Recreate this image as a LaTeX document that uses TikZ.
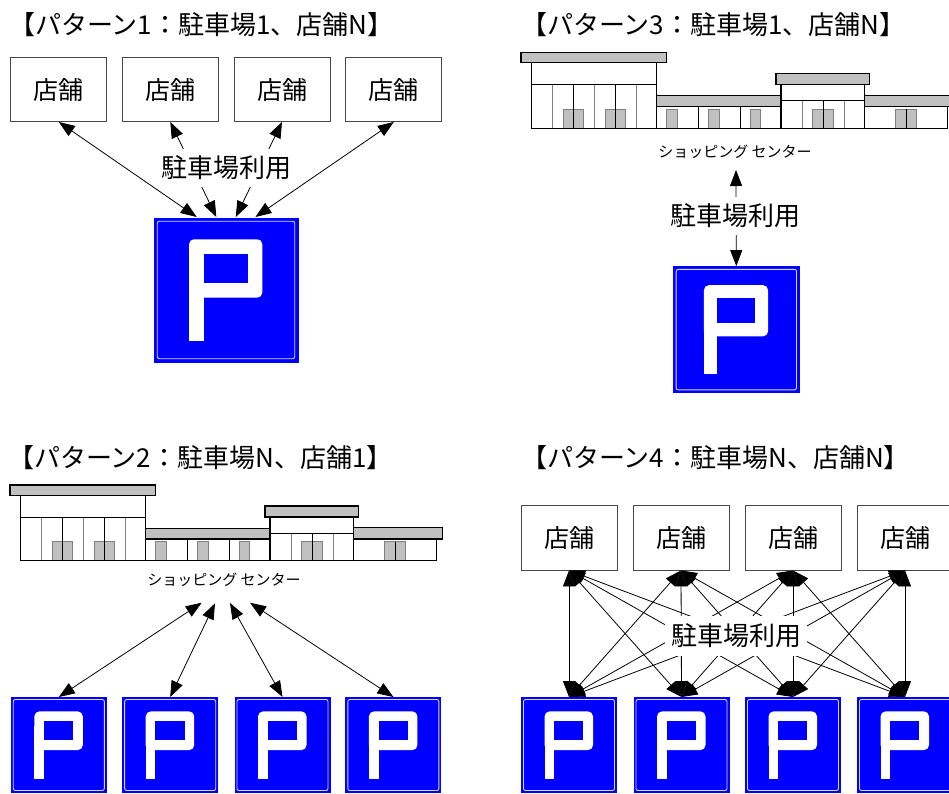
\documentclass[tikz,border=0pt]{standalone}
\usepackage{fontspec}
\newfontfamily\jp{Noto Sans CJK JP}
\usetikzlibrary{arrows.meta}
\definecolor{signblue}{RGB}{0,0,255}
\definecolor{roofgray}{RGB}{192,192,192}
\definecolor{framegray}{RGB}{70,70,70}

\tikzset{
  store/.style={draw=framegray, line width=0.9pt, fill=white, minimum width=96pt,
    minimum height=#1, inner sep=0pt, font=\jp\fontsize{25}{25}\selectfont},
  store/.default=64pt,
  usage/.style={fill=white, inner xsep=6pt, inner ysep=7pt, font=\jp\fontsize{26}{26}\selectfont},
  heading/.style={anchor=west, inner sep=0pt, font=\jp\fontsize{26}{26}\selectfont},
  malllabel/.style={inner sep=0pt, font=\jp\fontsize{15}{15}\selectfont},
  link/.style={draw=black, line width=0.8pt,
    {Triangle[length=16pt,width=12pt]}-{Triangle[length=16pt,width=12pt]}},
  % square blue parking sign with a white "P" (drawn about the node centre)
  psign/.style={rectangle, fill=signblue, minimum width=#1pt, minimum height=#1pt,
    inner sep=0pt, outer sep=0pt,
    path picture={
      \begin{scope}[x=#1pt, y=-#1pt]
        \draw[white!85!signblue, line width=0.9pt, rounded corners=2pt]
          (-0.474,-0.474) rectangle (0.474,0.474);
        \fill[white] (-0.255,-0.2) rectangle (-0.155,0.35);
        \fill[white, rounded corners=5pt] (-0.255,-0.35) rectangle (0.25,0.053);
        \fill[signblue] (-0.155,-0.25) rectangle (0.15,-0.05);
      \end{scope}
    }},
  wall/.style={draw=black, line width=1.1pt},
  roof/.style={draw=black, line width=1.1pt, fill=roofgray},
  door/.style={draw=gray, line width=0.6pt, fill=roofgray},
  mullion/.style={draw=gray, line width=0.8pt},
  doorline/.style={draw=black, line width=1pt},
  % shopping centre front, origin at the bottom-left corner of the facade
  mall/.pic={
    % buildings
    \fill[white] (0,-65.4) rectangle (125,0);
    \fill[white] (125,-21.7) rectangle (249.3,0);
    \fill[white] (249.3,-43.7) rectangle (332.6,0);
    \fill[white] (332.6,-21.7) rectangle (416,0);
    % window mullions
    \draw[mullion] (21,-43.4) -- (21,0) (62.6,-43.4) -- (62.6,0) (104.3,-43.4) -- (104.3,0);
    \draw[mullion] (271,-27.4) -- (271,0) (312.6,-27.4) -- (312.6,0);
    % doors
    \draw[door] (31.6,-19) rectangle (52,0);
    \draw[door] (73.3,-19) rectangle (93.6,0);
    \draw[door] (135,-19) rectangle (146,0);
    \draw[door] (176.6,-19) rectangle (187.6,0);
    \draw[door] (218.3,-19) rectangle (228.6,0);
    \draw[door] (281,-19) rectangle (301.6,0);
    \draw[door] (363.6,-19) rectangle (384.3,0);
    \draw[doorline] (42,-43.4) -- (42,0) (83.3,-43.4) -- (83.3,0)
      (166.6,-21.7) -- (166.6,0) (208.3,-21.7) -- (208.3,0)
      (291.6,-27.4) -- (291.6,0) (374.3,-19) -- (374.3,0);
    % outlines
    \draw[wall] (0,-65.4) rectangle (125,0);
    \draw[wall] (0,-43.4) -- (125,-43.4);
    \draw[wall] (125,-21.7) rectangle (249.3,0);
    \draw[wall] (249.3,-43.7) rectangle (332.6,0);
    \draw[wall] (249.3,-27.4) -- (332.6,-27.4);
    \draw[wall] (332.6,-21.7) -- (416,-21.7) -- (416,0);
    \draw[wall] (0,0) -- (416,0);
    % roofs
    \draw[roof] (-10.7,-75.7) rectangle (135,-65.4);
    \draw[roof] (125,-32.4) rectangle (249.3,-21.7);
    \draw[roof] (244.3,-54.7) rectangle (337.6,-43.7);
    \draw[roof] (332.6,-33) rectangle (421.6,-21.7);
  }
}

\begin{document}
\begin{tikzpicture}[x=1pt, y=-1pt]
  \useasboundingbox (0,0) rectangle (949,793);
  \clip (0,0) rectangle (949,793);
  \fill[white] (0,0) rectangle (949,793);

  % ---------- pattern 1: one car park, N shops ----------
  \node[heading] (h1) at (9,25) {【パターン1：駐車場1、店舗N】};
  \node[store] (s11) at (58.8,89.5) {店舗};
  \node[store] (s12) at (170.3,89.5) {店舗};
  \node[store] (s13) at (282,89.5) {店舗};
  \node[store] (s14) at (393.8,89.5) {店舗};
  \node[psign=145] (p1) at (226,290) {};
  \coordinate (e11) at (196.7,217);
  \coordinate (e12) at (216.3,217);
  \coordinate (e13) at (235.8,217);
  \coordinate (e14) at (255.4,217);
  \draw[link] (s11.south) -- (e11);
  \draw[link] (s12.south) -- (e12);
  \draw[link] (s13.south) -- (e13);
  \draw[link] (s14.south) -- (e14);
  \node[usage] (u1) at (226,168) {駐車場利用};

  % ---------- pattern 3: one car park, one shopping centre ----------
  \node[heading] (h3) at (521,25) {【パターン3：駐車場1、店舗N】};
  \pic at (531.7,128.3) {mall};
  \node[malllabel] (m3) at (735,151.7) {ショッピング センター};
  \coordinate (c3) at (736,170);
  \node[psign=127] (p3) at (736.3,329.6) {};
  \draw[link] (c3) -- (p3.north);
  \node[usage] (u3) at (735,216) {駐車場利用};

  % ---------- pattern 2: N car parks, one shopping centre ----------
  \node[heading] (h2) at (8,458) {【パターン2：駐車場N、店舗1】};
  \pic at (20.7,560.7) {mall};
  \node[malllabel] (m2) at (224,580) {ショッピング センター};
  \node[psign=96] (p21) at (58.8,745) {};
  \node[psign=96] (p22) at (170.2,745) {};
  \node[psign=96] (p23) at (282.5,745) {};
  \node[psign=96] (p24) at (393.4,745) {};
  \coordinate (c21) at (201.7,602.7);
  \coordinate (c22) at (215,603.3);
  \coordinate (c23) at (230,603);
  \coordinate (c24) at (250,602.7);
  \draw[link] (c21) -- (p21.north);
  \draw[link] (c22) -- (p22.north);
  \draw[link] (c23) -- (p23.north);
  \draw[link] (c24) -- (p24.north);

  % ---------- pattern 4: N car parks, N shops ----------
  \node[heading] (h4) at (521,458) {【パターン4：駐車場N、店舗N】};
  \node[store=65pt] (s41) at (569,537.5) {店舗};
  \node[store=65pt] (s42) at (681,537.5) {店舗};
  \node[store=65pt] (s43) at (793,537.5) {店舗};
  \node[store=65pt] (s44) at (905,537.5) {店舗};
  \node[psign=96] (p41) at (569,745) {};
  \node[psign=96] (p42) at (681.5,745) {};
  \node[psign=96] (p43) at (793,745) {};
  \node[psign=96] (p44) at (905,745) {};
  \foreach \i in {1,...,4}
    \foreach \j in {1,...,4}
      \draw[link] (s4\i.south) -- (p4\j.north);
  \node[usage, inner ysep=8pt] (u4) at (736,636) {駐車場利用};
\end{tikzpicture}
\end{document}
